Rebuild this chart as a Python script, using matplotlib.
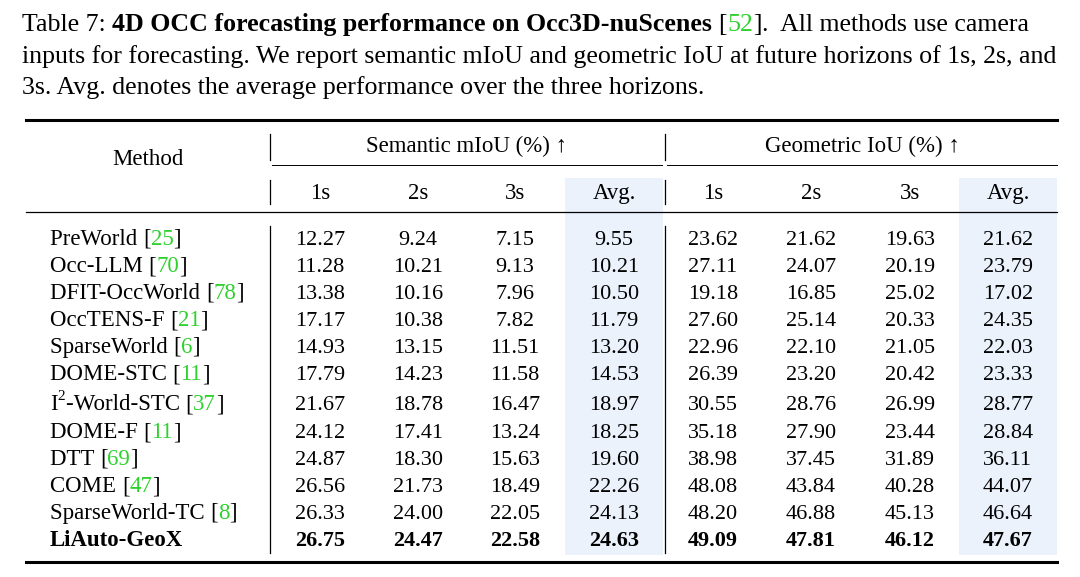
import matplotlib
matplotlib.use('Agg')
import matplotlib.pyplot as plt
from matplotlib.patches import Rectangle

plt.rcParams['font.family'] = ['Liberation Serif', 'DejaVu Serif']

GREEN = '#2fd12f'
W, H = 1080, 577

fig = plt.figure(figsize=(W / 100, H / 100), dpi=100)
ax = fig.add_axes([0, 0, 1, 1])
ax.set_xlim(0, W)
ax.set_ylim(H, 0)
ax.axis('off')
renderer = fig.canvas.get_renderer()


def chain(x, y, parts, size):
    # parts: list of (text, color, weight); drawn left to right on one baseline
    for s, c, w in parts:
        t = ax.text(x, y, s, color=c, fontweight=w, fontsize=size, va='baseline', ha='left')
        bb = t.get_window_extent(renderer)
        x += bb.width
    return x


# caption
cap = 18.6
chain(22, 31, [('Table 7: ', 'black', 'normal'),
               ('4D OCC forecasting performance on Occ3D-nuScenes ', 'black', 'bold'),
               ('[', 'black', 'normal'), ('52', GREEN, 'normal'), (']', 'black', 'normal'),
               ('.  All methods use camera', 'black', 'normal')], cap)
chain(22, 63, [('inputs for forecasting. We report semantic mIoU and geometric IoU at future horizons of 1s, 2s, and', 'black', 'normal')], cap)
chain(22, 94, [('3s. Avg. denotes the average performance over the three horizons.', 'black', 'normal')], cap)

methods = [
    ('PreWorld', '25'), ('Occ-LLM', '70'), ('DFIT-OccWorld', '78'), ('OccTENS-F', '21'),
    ('SparseWorld', '6'), ('DOME-STC', '11'), ('I2-World-STC', '37'), ('DOME-F', '11'),
    ('DTT', '69'), ('COME', '47'), ('SparseWorld-TC', '8'), ('LiAuto-GeoX', None),
]
values = [
    [12.27, 9.24, 7.15, 9.55, 23.62, 21.62, 19.63, 21.62],
    [11.28, 10.21, 9.13, 10.21, 27.11, 24.07, 20.19, 23.79],
    [13.38, 10.16, 7.96, 10.50, 19.18, 16.85, 25.02, 17.02],
    [17.17, 10.38, 7.82, 11.79, 27.60, 25.14, 20.33, 24.35],
    [14.93, 13.15, 11.51, 13.20, 22.96, 22.10, 21.05, 22.03],
    [17.79, 14.23, 11.58, 14.53, 26.39, 23.20, 20.42, 23.33],
    [21.67, 18.78, 16.47, 18.97, 30.55, 28.76, 26.99, 28.77],
    [24.12, 17.41, 13.24, 18.25, 35.18, 27.90, 23.44, 28.84],
    [24.87, 18.30, 15.63, 19.60, 38.98, 37.45, 31.89, 36.11],
    [26.56, 21.73, 18.49, 22.26, 48.08, 43.84, 40.28, 44.07],
    [26.33, 24.00, 22.05, 24.13, 48.20, 46.88, 45.13, 46.64],
    [26.75, 24.47, 22.58, 24.63, 49.09, 47.81, 46.12, 47.67],
]
col_x = [320, 418, 515, 614, 713, 811, 910, 1008]
row_y = [245, 272, 299, 326, 353, 380, 410, 438, 465, 492, 519, 546]
fs = 16.5
fn = 16

# shaded Avg. columns
for cx in (614, 1008):
    ax.add_patch(Rectangle((cx - 49, 178), 98, 377, color='#ebf2fc', lw=0, zorder=0))

# rules
ax.plot([26, 1057], [120, 120], color='black', lw=2.2)
ax.plot([26, 1057], [212, 212], color='black', lw=0.9)
ax.plot([26, 1057], [562, 562], color='black', lw=2.2)
ax.plot([272, 662], [165, 165], color='black', lw=0.7)
ax.plot([667, 1057], [165, 165], color='black', lw=0.7)
for vx in (270, 665):
    ax.plot([vx, vx], [134, 160], color='black', lw=0.9)
    ax.plot([vx, vx], [180, 204], color='black', lw=0.9)
    ax.plot([vx, vx], [226, 553], color='black', lw=0.9)

# header
ax.text(148, 165, 'Method', fontsize=fs, ha='center', va='baseline')
ax.text(467, 152, 'Semantic mIoU (%) ↑', fontsize=fs, ha='center', va='baseline')
ax.text(862, 152, 'Geometric IoU (%) ↑', fontsize=fs, ha='center', va='baseline')
for i, cx in enumerate(col_x):
    ax.text(cx, 199, ['1s', '2s', '3s', 'Avg.'][i % 4], fontsize=fs, ha='center', va='baseline')

# rows
for (name, ref), vals, y in zip(methods, values, row_y):
    bold = ref is None
    w = 'bold' if bold else 'normal'
    if name.startswith('I2'):
        x = chain(50, y, [('I', 'black', w)], fs)
        ax.text(x, y - 10, '2', fontsize=11, va='baseline')
        chain(x + 8, y, [('-World-STC ', 'black', w), ('[', 'black', w), (ref, GREEN, w), (']', 'black', w)], fs)
    elif bold:
        chain(50, y, [(name, 'black', w)], fs)
    else:
        chain(50, y, [(name + ' ', 'black', w), ('[', 'black', w), (ref, GREEN, w), (']', 'black', w)], fs)
    for cx, v in zip(col_x, vals):
        ax.text(cx, y, f'{v:.2f}', fontsize=fn, ha='center', va='baseline', fontweight=w)

fig.savefig('out.png', dpi=100, facecolor='white')
